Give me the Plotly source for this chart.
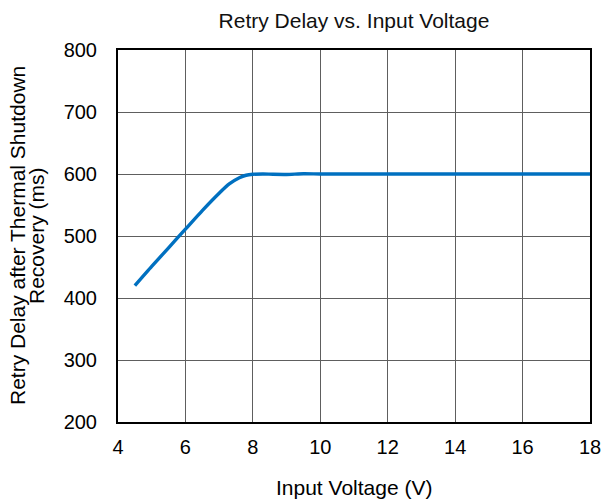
import plotly.graph_objects as go

voltage = [4.5, 5.0, 5.5, 6.0, 6.5, 7.0, 7.3, 7.6, 7.8, 8.0, 8.3, 8.6, 9.0, 9.5, 10, 11, 12, 13, 14, 15, 16, 17, 18]
delay = [420, 451, 481, 511, 541, 569, 584, 594, 598, 599.5, 600, 599.5, 599.3, 600.3, 600, 600, 600, 600, 600, 600, 600, 600, 600]

x_ticks = [4, 6, 8, 10, 12, 14, 16, 18]
y_ticks = [200, 300, 400, 500, 600, 700, 800]

font = "Liberation Sans, Arial, sans-serif"

fig = go.Figure()
fig.add_trace(go.Scatter(x=voltage, y=delay, mode="lines",
                         line=dict(color="#0070C0", width=3.4, shape="spline", smoothing=0.6)))

fig.update_layout(
    width=602, height=504,
    margin=dict(l=118, r=12, t=50, b=82),
    paper_bgcolor="white", plot_bgcolor="white",
    showlegend=False,
    font=dict(family=font, size=20, color="black"),
    title=dict(text="Retry Delay vs. Input Voltage", x=0.5, xref="paper", y=1 - 21 / 504, yref="container",
               xanchor="center", yanchor="middle", font=dict(size=21, family=font, color="#111111")),
    xaxis=dict(range=[4, 18], tickvals=x_ticks, showgrid=True, gridcolor="#5e5e5e", gridwidth=1.2,
               showline=True, linecolor="black", linewidth=2, mirror=True, zeroline=False,
               ticks="", tickfont=dict(size=20), automargin=False, ticklabelstandoff=6),
    yaxis=dict(range=[200, 800], tickvals=y_ticks, showgrid=True, gridcolor="#5e5e5e", gridwidth=1.2,
               showline=True, linecolor="black", linewidth=2, mirror=True, zeroline=False,
               ticks="", tickfont=dict(size=20), automargin=False, ticklabelstandoff=15),
    annotations=[
        dict(text="Retry Delay after Thermal Shutdown", textangle=-90,
             xref="paper", yref="paper", x=(17 - 118) / 472, y=0.5, xanchor="center", yanchor="middle",
             showarrow=False, font=dict(size=21, family=font)),
        dict(text="Recovery (ms)", textangle=-90,
             xref="paper", yref="paper", x=(36 - 118) / 472, y=0.5, xanchor="center", yanchor="middle",
             showarrow=False, font=dict(size=21, family=font)),
        dict(text="Input Voltage (V)", xref="paper", yref="paper", x=0.5, y=-(487 - 422) / 372,
             xanchor="center", yanchor="middle", showarrow=False, font=dict(size=21, family=font)),
    ],
)

fig.write_html("out.html", config={"displayModeBar": False},
               post_script="document.body.style.margin='0px';")
